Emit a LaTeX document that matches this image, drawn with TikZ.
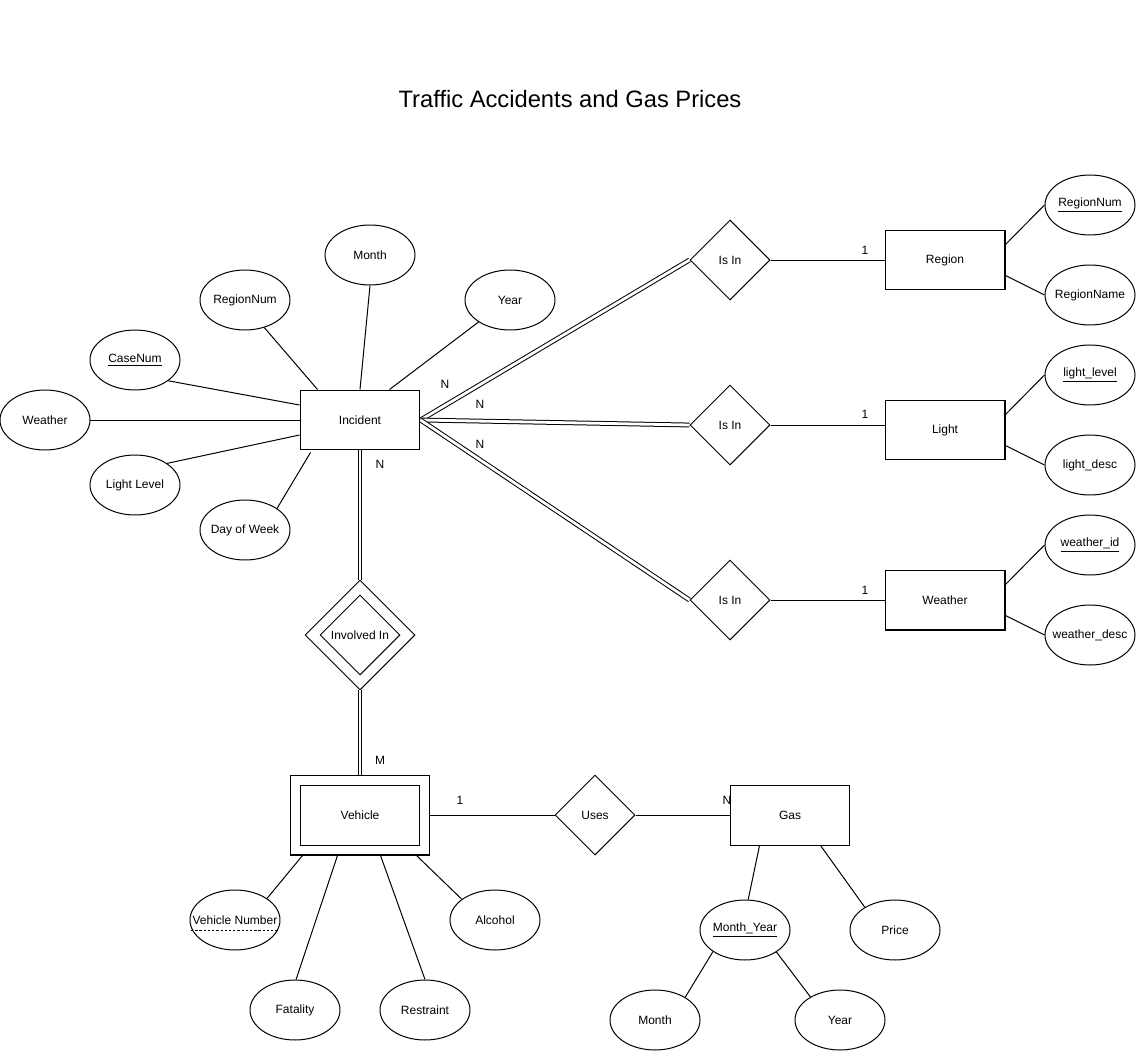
\documentclass[tikz,border=0pt]{standalone}
\usepackage{fontspec}
\setmainfont{Liberation Sans}
\usetikzlibrary{shapes.geometric,calc}
% attribute text never widens its ellipse
\newcommand{\attrtext}[1]{\makebox[0pt]{#1}}
\begin{document}
\begin{tikzpicture}[x=0.02cm,y=-0.02cm,line width=0.57pt,
  every node/.style={font=\fontsize{6.83}{8}\selectfont,inner sep=0pt},
  entity/.style={draw,rectangle,minimum width=2.4cm,minimum height=1.2cm},
  attr/.style={draw,ellipse,minimum width=1.8cm,minimum height=1.2cm},
  rel/.style={draw,diamond,aspect=1,minimum width=1.6cm,minimum height=1.6cm},
  dbl/.style={double,double distance=1.6pt},
  card/.style={font=\fontsize{6.83}{8}\selectfont}]
\useasboundingbox (0,0) rectangle (1136,1051);

% title
\node (title) at (570,99) {\fontsize{13.5}{16}\selectfont Traffic Accidents and Gas Prices};

% ---- Incident and its attributes
\node[entity] (inc) at (360,420) {Incident};
\node[attr] (month) at (370,255) {\attrtext{Month}};
\node[attr] (regnum) at (245,300) {\attrtext{RegionNum}};
\node[attr] (year) at (510,300) {\attrtext{Year}};
\node[attr] (casenum) at (135,360) {\attrtext{\underline{CaseNum}}};
\node[attr] (weather) at (45,420) {\attrtext{Weather}};
\node[attr] (lightlvl) at (135,485) {\attrtext{Light Level}};
\node[attr] (dow) at (245,530) {\attrtext{Day of Week}};

\draw (month.270) -- (inc.north);
\draw (regnum.-55) -- ($(inc.north west)+(18,0)$);
\draw (year.215) -- ($(inc.north west)+(90,0)$);
\draw (casenum.-32) -- ($(inc.west)+(0,-15)$);
\draw (weather.east) -- (inc.west);
\draw (lightlvl.34) -- ($(inc.west)+(0,15)$);
\draw (dow.34) -- ($(inc.south west)+(11,2)$);

% ---- Is In relationships
\node[rel] (isin1) at (730,260) {Is In};
\node[rel] (isin2) at (730,425) {Is In};
\node[rel] (isin3) at (730,600) {Is In};

\node[entity] (region) at (945,260) {Region};
\node[entity] (light) at (945,430) {Light};
\node[entity] (wthr) at (945,600) {Weather};

\draw[dbl] (inc.east) -- (isin1.west);
\draw[dbl] (inc.east) -- (isin2.west);
\draw[dbl] (inc.east) -- (isin3.west);
\node[card] (n1) at (445,384) {N};
\node[card] (n2) at (480,404) {N};
\node[card] (n3) at (480,444) {N};

\draw (isin1.east) -- (region.west);
\draw (isin2.east) -- (light.west |- isin2.east);
\draw (isin3.east) -- (wthr.west);
\node[card] (c1) at (865,250) {1};
\node[card] (c2) at (865,414) {1};
\node[card] (c3) at (865,590) {1};

% ---- lookup attributes
\node[attr] (rnum) at (1090,205) {\attrtext{\underline{RegionNum}}};
\node[attr] (rname) at (1090,295) {\attrtext{RegionName}};
\node[attr] (llevel) at (1090,375) {\attrtext{\underline{light\_level}}};
\node[attr] (ldesc) at (1090,465) {\attrtext{light\_desc}};
\node[attr] (wid) at (1090,545) {\attrtext{\underline{weather\_id}}};
\node[attr] (wdesc) at (1090,635) {\attrtext{weather\_desc}};

\draw ($(region.north east)+(0,15)$) -- (rnum.west);
\draw ($(region.south east)+(0,-15)$) -- (rname.west);
\draw ($(light.north east)+(0,15)$) -- (llevel.west);
\draw ($(light.south east)+(0,-15)$) -- (ldesc.west);
\draw ($(wthr.north east)+(0,15)$) -- (wid.west);
\draw ($(wthr.south east)+(0,-15)$) -- (wdesc.west);

% ---- Involved In (identifying relationship)
\node[draw,diamond,aspect=1,minimum width=2.2cm,minimum height=2.2cm] (invout) at (360,635) {};
\node[rel] (inv) at (360,635) {Involved In};
\node[draw,rectangle,minimum width=2.8cm,minimum height=1.6cm] (vehout) at (360,815) {};
\node[entity] (veh) at (360,815) {Vehicle};

\draw[dbl] (inc.south) -- (invout.north);
\draw[dbl] (invout.south) -- (vehout.north);
\node[card] (n4) at (380,464) {N};
\node[card] (m1) at (380,760) {M};

% ---- Vehicle attributes
\node[attr] (vnum) at (235,920) {\attrtext{Vehicle Number}};
\node[attr] (fatal) at (295,1010) {\attrtext{Fatality}};
\node[attr] (restr) at (425,1010) {\attrtext{Restraint}};
\node[attr] (alco) at (495,920) {\attrtext{Alcohol}};
\draw[dash pattern=on 1.3pt off 1.1pt] ($(vnum.center)+(-44,10)$) -- ($(vnum.center)+(43,10)$);

\draw (vnum.34) -- ($(vehout.south west)+(13,0)$);
\draw (fatal.88) -- ($(vehout.south west)+(48,0)$);
\draw (restr.90) -- ($(vehout.south west)+(91,0)$);
\draw (alco.148) -- ($(vehout.south west)+(127,0)$);

% ---- Uses / Gas
\node[rel] (uses) at (595,815) {Uses};
\node[entity] (gas) at (790,815) {Gas};
\draw (vehout.east) -- (uses.west);
\draw (uses.east) -- (gas.west);
\node[card] (c4) at (460,800) {1};
\node[card] (n5) at (727,800) {N};

\node[attr] (my) at (745,930) {\attrtext{\underline{Month\_Year}}};
\node[attr] (price) at (895,930) {\attrtext{Price}};
\node[attr] (gmonth) at (655,1020) {\attrtext{Month}};
\node[attr] (gyear) at (840,1020) {\attrtext{Year}};

\draw ($(gas.south west)+(30,0)$) -- (my.84);
\draw ($(gas.south west)+(91,0)$) -- (price.143);
\draw (my.214) -- (gmonth.37);
\draw (my.-35) -- (gyear.142);
\end{tikzpicture}
\end{document}
